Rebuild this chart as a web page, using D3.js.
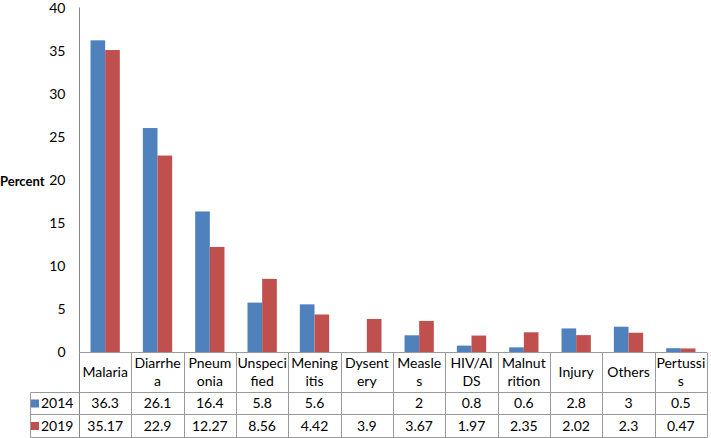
<!DOCTYPE html>
<html><head><meta charset="utf-8">
<script src="https://cdn.jsdelivr.net/npm/d3@7"></script>
<style>body{margin:0;background:#fff}svg{display:block}text{font-family:Lato,"Open Sans",sans-serif;fill:#000}</style>
</head><body><svg id="c" width="711" height="438"></svg>
<script>
const categories = ["Malaria","Diarrhea","Pneumonia","Unspecified","Meningitis","Dysentery","Measles","HIV/AIDS","Malnutrition","Injury","Others","Pertussis"];
const categoryLines = [["Malaria"],["Diarrhe","a"],["Pneum","onia"],["Unspeci","fied"],["Mening","itis"],["Dysent","ery"],["Measle","s"],["HIV/AI","DS"],["Malnut","rition"],["Injury"],["Others"],["Pertussi","s"]];
const seriesNames = ["2014","2019"];
const values2014 = [36.3,26.1,16.4,5.8,5.6,null,2,0.8,0.6,2.8,3,0.5];
const values2019 = [35.17,22.9,12.27,8.56,4.42,3.9,3.67,1.97,2.35,2.02,2.3,0.47];
const valueLabels2014 = ["36.3","26.1","16.4","5.8","5.6","","2","0.8","0.6","2.8","3","0.5"];
const valueLabels2019 = ["35.17","22.9","12.27","8.56","4.42","3.9","3.67","1.97","2.35","2.02","2.3","0.47"];
const yTicks = [0,5,10,15,20,25,30,35,40];
const colors = ["#4F81BD","#C0504D"];

const svg = d3.select("#c");
const plotLeft = 79, plotRight = 707, plotTop = 8.5, base = 352.5;
const rows = [392.5, 414.5, 437.5];
const legendLeft = 30.5;
const series = [values2014, values2019];
const labels = [valueLabels2014, valueLabels2019];

const x = d3.scaleBand().domain(categories).range([plotLeft, plotRight]).padding(0);
const bw = x.bandwidth();
const xs = d3.scaleBand().domain(seriesNames).range([bw*0.22, bw*0.78]).padding(0);
const y = d3.scaleLinear().domain([0,40]).range([base, plotTop]);

series.forEach((vals, si) => {
  svg.append("g").selectAll("rect").data(categories.map((c,i)=>({c, v: vals[i]})).filter(d=>d.v!=null))
    .join("rect")
    .attr("x", d => x(d.c) + xs(seriesNames[si]))
    .attr("width", xs.bandwidth())
    .attr("y", d => y(d.v))
    .attr("height", d => y(0) - y(d.v))
    .attr("fill", colors[si]);
});

const yAxis = d3.axisLeft(y).tickValues(yTicks).tickSize(0).tickPadding(14);
const ga = svg.append("g").attr("transform", `translate(${plotLeft+0.5},0)`).call(yAxis);
ga.select(".domain").attr("stroke", "#868686").attr("d", `M0,${plotTop-1}V${rows[2]}`);
ga.selectAll("text").attr("font-size", 14).attr("font-family", "Lato, sans-serif").attr("fill","#000");

svg.append("text").attr("x", 0).attr("y", 181).attr("dy","0.35em").attr("font-size", 13).attr("font-weight","bold").text("Percent");

const grid = svg.append("g").attr("stroke", "#9a9a9a").attr("stroke-width", 1).attr("fill","none");
grid.append("line").attr("x1", plotLeft).attr("x2", plotRight).attr("y1", base).attr("y2", base);
rows.forEach(r => grid.append("line").attr("x1", legendLeft).attr("x2", plotRight).attr("y1", r).attr("y2", r));
grid.append("line").attr("x1", legendLeft).attr("x2", legendLeft).attr("y1", rows[0]).attr("y2", rows[2]);
categories.forEach(c => {
  const xr = Math.round(x(c) + bw) + 0.5;
  grid.append("line").attr("x1", xr).attr("x2", xr).attr("y1", base).attr("y2", rows[2]);
});

categories.forEach((c, i) => {
  const lines = categoryLines[i];
  const cx = x(c) + bw/2;
  const cy = (base + rows[0]) / 2;
  const lh = 18;
  lines.forEach((t, k) => {
    svg.append("text").attr("x", cx).attr("y", cy + (k - (lines.length-1)/2)*lh)
      .attr("dy","0.35em").attr("text-anchor","middle").attr("font-size", 14).text(t);
  });
});

series.forEach((vals, si) => {
  const cy = (rows[si] + rows[si+1]) / 2;
  svg.append("rect").attr("x", 31).attr("y", cy-4).attr("width", 8).attr("height", 8).attr("fill", colors[si]);
  svg.append("text").attr("x", 41).attr("y", cy).attr("dy","0.35em").attr("font-size", 14).text(seriesNames[si]);
  categories.forEach((c, i) => {
    svg.append("text").attr("x", x(c) + bw/2).attr("y", cy).attr("dy","0.35em")
      .attr("text-anchor","middle").attr("font-size", 14).text(labels[si][i]);
  });
});
</script></body></html>
